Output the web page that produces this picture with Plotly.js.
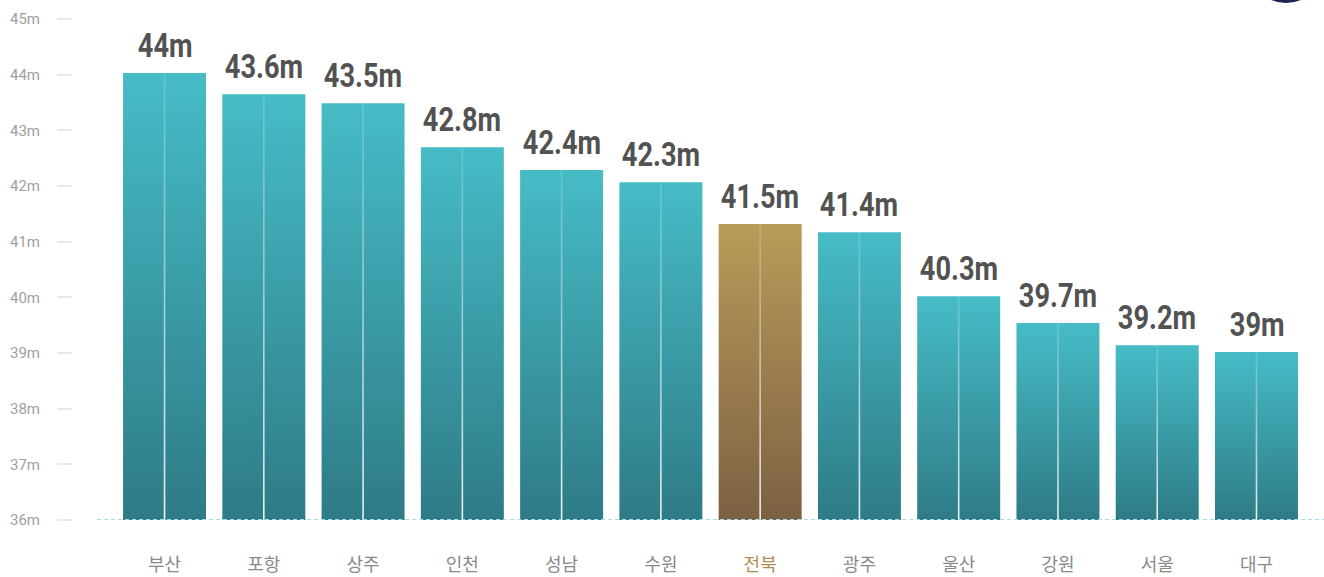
<!DOCTYPE html>
<html><head><meta charset="utf-8">
<script src="https://cdn.plot.ly/plotly-3.0.1.min.js"></script>
<style>
html,body{margin:0;padding:0;background:#fff}
#chart{width:1324px;height:577px}
#chart .annotation-text{transform-box:fill-box;transform-origin:center;transform:scaleX(0.8)}
</style>
</head><body><div id="chart"></div>
<script>
// ---- data ----
const regions = ['부산','포항','상주','인천','성남','수원','전북','광주','울산','강원','서울','대구'];
const labelValues = [44, 43.6, 43.5, 42.8, 42.4, 42.3, 41.5, 41.4, 40.3, 39.7, 39.2, 39];
const barHeights = [44.03, 43.65, 43.49, 42.70, 42.29, 42.07, 41.32, 41.17, 40.02, 39.54, 39.14, 39.02];
const highlightRegion = '전북';
const yTickValues = [36, 37, 38, 39, 40, 41, 42, 43, 44, 45];
const baseValue = 36;

// ---- style ----
const tealScale = [[0, '#2e7b86'], [1, '#46bcc7']];
const goldScale = [[0, '#7b6143'], [1, '#b99b59']];
const lineScale = [[0, 'rgba(255,255,255,0.9)'], [1, 'rgba(255,255,255,0.15)']];
const halfBar = 0.418;
const halfLine = 0.008;

const traces = [];
regions.forEach((r, i) => {
  const h = barHeights[i];
  traces.push({
    type: 'scatter', mode: 'lines', fill: 'toself',
    x: [i - halfBar, i + halfBar, i + halfBar, i - halfBar, i - halfBar],
    y: [baseValue, baseValue, h, h, baseValue],
    line: {width: 0},
    fillgradient: {type: 'vertical', colorscale: r === highlightRegion ? goldScale : tealScale},
    hoverinfo: 'skip', showlegend: false
  });
  traces.push({
    type: 'scatter', mode: 'lines', fill: 'toself',
    x: [i - halfLine, i + halfLine, i + halfLine, i - halfLine, i - halfLine],
    y: [baseValue, baseValue, h, h, baseValue],
    line: {width: 0},
    fillgradient: {type: 'vertical', colorscale: lineScale},
    hoverinfo: 'skip', showlegend: false
  });
});

const annotations = regions.map((r, i) => ({
  x: i, y: barHeights[i], xref: 'x', yref: 'y',
  text: labelValues[i] + 'm', showarrow: false,
  xanchor: 'center', yanchor: 'bottom', yshift: 6,
  font: {family: 'Roboto, "DejaVu Sans Condensed", sans-serif', size: 34, color: '#525252', weight: 700}
}));

const layout = {
  width: 1324, height: 577,
  margin: {l: 72, r: 0, t: 8, b: 57},
  paper_bgcolor: '#fff', plot_bgcolor: '#fff',
  showlegend: false,
  annotations: annotations,
  xaxis: {
    domain: [0.02, 1], range: [-0.68, 11.68],
    tickvals: regions.map((r, i) => i),
    ticktext: regions.map(r => r === highlightRegion ? '<span style="color:#ad8f55">' + r + '</span>' : r),
    tickfont: {family: '"Noto Sans CJK KR", "Noto Sans", sans-serif', size: 18, color: '#8a8a8a'},
    ticks: '', showgrid: false, zeroline: false, showline: false,
    ticklabelstandoff: 32, fixedrange: true
  },
  yaxis: {
    anchor: 'free', position: 0,
    range: [36, 45.2],
    tickvals: yTickValues,
    ticktext: yTickValues.map(v => v + 'm'),
    tickfont: {family: 'Roboto, "Open Sans", sans-serif', size: 15, color: '#a0a0a0'},
    ticks: 'outside', ticklen: 15, tickwidth: 2, tickcolor: '#e8e8e8',
    showgrid: false, zeroline: false, showline: false,
    ticklabelstandoff: 14, fixedrange: true
  },
  shapes: [
    {type: 'line', xref: 'x domain', x0: 0, x1: 1, yref: 'y', y0: baseValue, y1: baseValue,
     line: {color: '#a9dce8', width: 2, dash: '4px,3px'}, layer: 'above'},
    {type: 'circle', xref: 'paper', yref: 'paper', x0: 0.9401, x1: 0.9992, y0: 1.0098, y1: 1.1543,
     fillcolor: '#1d2251', line: {width: 0}, layer: 'above'}
  ]
};

Plotly.newPlot('chart', traces, layout, {displayModeBar: false, staticPlot: true});
</script>
</body></html>
